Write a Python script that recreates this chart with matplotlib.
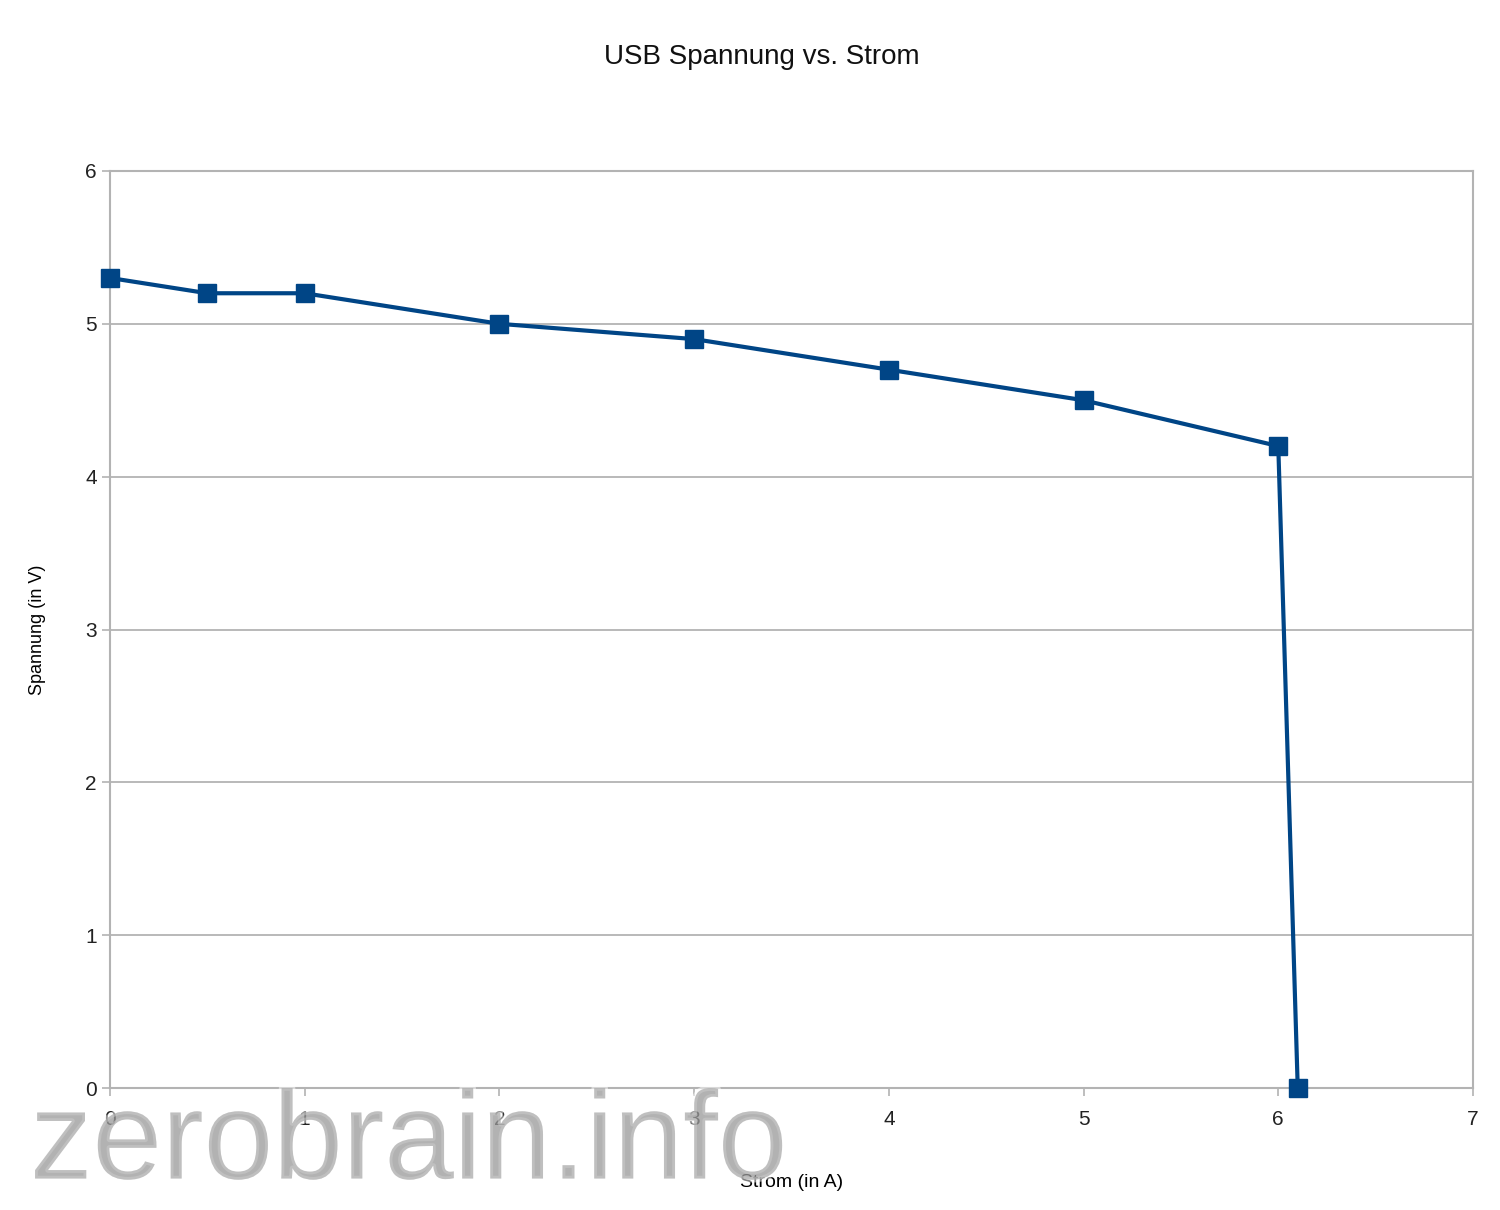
import matplotlib.pyplot as plt
import matplotlib.patheffects as pe

# measured values
strom = [0, 0.5, 1, 2, 3, 4, 5, 6, 6.1]  # current [A]
spannung = [5.3, 5.2, 5.2, 5.0, 4.9, 4.7, 4.5, 4.2, 0]  # voltage [V]
x_ticks = [0, 1, 2, 3, 4, 5, 6, 7]
y_ticks = [0, 1, 2, 3, 4, 5, 6]

plt.rcParams['font.family'] = ['Liberation Sans', 'DejaVu Sans']
grey = '#b3b3b3'

fig = plt.figure(figsize=(15, 12.1), dpi=100)
ax = fig.add_axes([0.0733, 0.1008, 0.9087, 0.7579])

ax.plot(strom, spannung, color='#004586', lw=3, marker='s', ms=13,
        zorder=3, clip_on=False)

ax.set_xlim(0, 7)
ax.set_ylim(0, 6)
ax.set_xticks(x_ticks)
ax.set_yticks(y_ticks)
ax.grid(axis='y', color=grey, lw=1.3)
for s in ax.spines.values():
    s.set_color(grey)
    s.set_linewidth(1.5)
ax.tick_params(colors=grey, labelcolor='#222222', labelsize=15,
               length=6, width=1.2)
ax.tick_params(axis='x', pad=10)

ax.set_xlabel('Strom (in A)', fontsize=14, labelpad=32)
ax.set_ylabel('Spannung (in V)', fontsize=13, labelpad=28)
fig.text(0.508, 0.953, 'USB Spannung vs. Strom', fontsize=20,
         ha='center', va='center', color='#111111')

# watermark (semi-transparent, on top)
fig.text(0.02, 0.026, 'zerobrain.info', fontsize=90, color='#9a9a9a',
         ha='left', va='baseline', alpha=0.5, zorder=10,
         path_effects=[pe.withStroke(linewidth=4, foreground='white')])

fig.savefig('out.png', dpi=100)
